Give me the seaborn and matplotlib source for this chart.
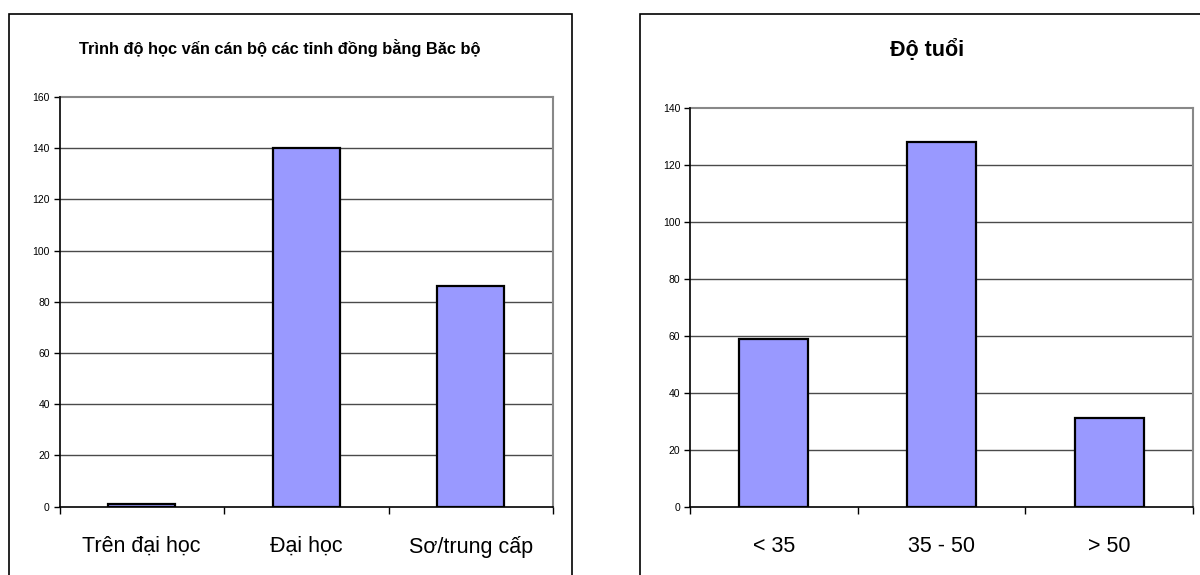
import matplotlib
matplotlib.use("Agg")
import matplotlib.pyplot as plt
import matplotlib.patches as mpatches
import seaborn as sns
import pandas as pd

# Education level of provincial staff
edu_categories = ["Trên đại học", "Đại học", "Sơ/trung cấp"]
edu_values = [1, 140, 86]
edu_title = "Trình độ học vấn cán bộ các tỉnh đồng bằng Băc bộ"
edu_yticks = [0, 20, 40, 60, 80, 100, 120, 140, 160]

# Age groups
age_categories = ["< 35", "35 - 50", "> 50"]
age_values = [59, 128, 31]
age_title = "Độ tuổi"
age_yticks = [0, 20, 40, 60, 80, 100, 120, 140]

sns.set_theme(style="white")
plt.rcParams["font.family"] = ["Liberation Sans", "DejaVu Sans"]
plt.rcParams["text.color"] = "black"
plt.rcParams["xtick.labelcolor"] = "black"
plt.rcParams["ytick.labelcolor"] = "black"

BAR_COLOR = "#9999FF"

fig = plt.figure(figsize=(12, 5.75), dpi=100)
W, H = 1200, 575


def px_axes(x0, x1, ytop, ybot):
    return fig.add_axes([x0 / W, 1 - ybot / H, (x1 - x0) / W, (ybot - ytop) / H])


# outer chart frames
for fx0, fx1 in [(8.5, 572), (640, 1210)]:
    fig.add_artist(mpatches.Rectangle((fx0 / W, -0.05), (fx1 - fx0) / W, 1.05 - 14 / H,
                                      transform=fig.transFigure, fill=False,
                                      edgecolor="black", linewidth=1.2))


def draw(ax, cats, vals, yticks):
    df = pd.DataFrame({"cat": cats, "val": vals})
    sns.barplot(data=df, x="cat", y="val", ax=ax, color=BAR_COLOR, saturation=1,
                edgecolor="black", linewidth=1.6, width=0.41, zorder=3)
    ax.set_xlim(-0.5, len(cats) - 0.5)
    ax.set_ylim(yticks[0], yticks[-1])
    ax.set_yticks(yticks)
    ax.set_yticklabels([str(t) for t in yticks], fontsize=7.5, color="black")
    ax.set_xlabel("")
    ax.set_ylabel("")
    for t in yticks[1:-1]:
        ax.axhline(t, color="#4a4a4a", linewidth=1.0, zorder=1)
    ax.set_xticks([i + 0.5 for i in range(-1, len(cats))], minor=False)
    ax.set_xticklabels([])
    ax.set_xticks(range(len(cats)), minor=True)
    ax.set_xticklabels(cats, minor=True, fontsize=15.5, color="black")
    ax.tick_params(axis="x", which="minor", length=0, pad=21)
    ax.tick_params(axis="x", which="major", length=5, width=1, color="black",
                   direction="out", bottom=True)
    ax.tick_params(axis="y", length=4, width=1, color="black", direction="out",
                   left=True, pad=3)
    for side in ["left", "bottom"]:
        ax.spines[side].set_color("black")
        ax.spines[side].set_linewidth(1.2)
        ax.spines[side].set_zorder(4)
    for side in ["top", "right"]:
        ax.spines[side].set_color("#888888")
        ax.spines[side].set_linewidth(1.5)
    ax.set_facecolor("white")


ax1 = px_axes(59.5, 553, 97, 506.7)
draw(ax1, edu_categories, edu_values, edu_yticks)
fig.text(280 / W, 1 - 48 / H, edu_title, ha="center", va="center",
         fontsize=11.8, fontweight="bold", color="black")

ax2 = px_axes(690, 1193, 108, 506.7)
draw(ax2, age_categories, age_values, age_yticks)
fig.text(927 / W, 1 - 50 / H, age_title, ha="center", va="center",
         fontsize=15.5, fontweight="bold", color="black")

fig.savefig("out.png", dpi=100, facecolor="white")
